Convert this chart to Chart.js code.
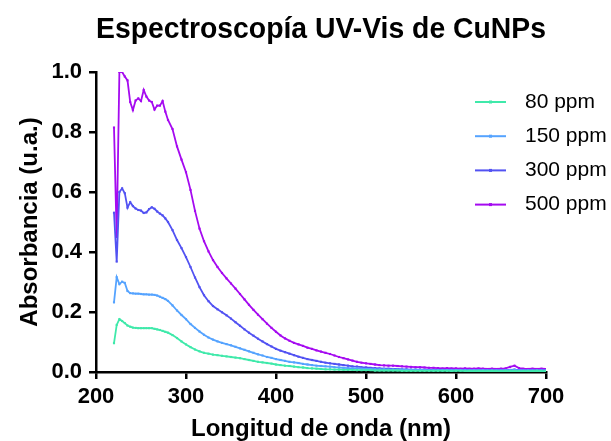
<!DOCTYPE html>
<html>
<head>
<meta charset="utf-8">
<script src="https://cdn.jsdelivr.net/npm/chart.js@4"></script>
<style>
html,body{margin:0;padding:0;background:#fff;}
#wrap{width:611px;height:441px;}
</style>
</head>
<body>
<div id="wrap"><canvas id="c" width="611" height="441"></canvas></div>
<script>
const wavelengths = [220,223,226,229,232,235,238,241,244,247,250,253,256,259,262,265,268,271,274,277,280,
  285,290,295,300,305,310,315,320,325,330,335,340,345,350,355,360,365,370,375,380,
  385,390,395,400,405,410,415,420,425,430,435,440,445,450,455,460,465,470,475,480,
  485,490,495,500,505,510,515,520,525,530,535,540,545,550,555,560,565,570,575,580,
  585,590,595,600,605,610,615,620,625,630,635,640,645,650,655,660,665,670,675,680,
  685,690,695,700];

const seriesLabels = ['80 ppm','150 ppm','300 ppm','500 ppm'];

const abs80 = [.096,.157,.176,.170,.163,.155,.151,.148,.147,.146,.146,.146,.146,.146,.146,.144,.142,.140,.137,.134,.131,
  .123,.113,.102,.092,.083,.075,.069,.064,.061,.058,.056,.054,.052,.050,.048,.046,.043,.040,.037,.034,
  .032,.030,.028,.025,.023,.021,.020,.018,.016,.015,.013,.012,.011,.010,.009,.009,.008,.008,.007,.007,
  .007,.006,.006,.006,.006,.005,.005,.005,.005,.005,.005,.004,.004,.004,.004,.004,.004,.004,.004,.004,
  .004,.004,.003,.004,.004,.003,.004,.003,.004,.003,.003,.004,.003,.003,.004,.003,.004,.003,.003,.003,
  .003,.004,.003,.003];

const abs150 = [.232,.316,.293,.301,.297,.270,.263,.262,.261,.261,.260,.259,.259,.258,.258,.257,.255,.251,.247,.243,.237,
  .222,.205,.190,.176,.160,.147,.135,.124,.115,.108,.102,.097,.093,.089,.084,.079,.074,.069,.064,.059,
  .055,.050,.047,.043,.040,.037,.034,.032,.030,.027,.025,.023,.021,.020,.019,.018,.016,.015,.014,.013,
  .012,.012,.011,.010,.010,.009,.009,.009,.008,.008,.008,.008,.007,.007,.007,.007,.007,.006,.006,.006,
  .006,.006,.006,.006,.006,.006,.005,.006,.005,.006,.005,.005,.005,.005,.006,.006,.007,.005,.005,.005,
  .005,.005,.005,.005];

const abs300 = [.531,.368,.600,.612,.596,.548,.566,.553,.545,.540,.538,.530,.532,.543,.549,.544,.535,.528,.522,.512,.500,
  .473,.440,.413,.383,.350,.315,.283,.256,.236,.220,.209,.199,.189,.178,.166,.154,.142,.131,.121,.111,
  .102,.093,.085,.077,.071,.066,.061,.056,.051,.047,.043,.040,.037,.034,.031,.029,.027,.025,.023,.021,
  .019,.018,.016,.015,.014,.013,.012,.011,.011,.010,.010,.009,.009,.008,.008,.008,.007,.007,.007,.007,
  .007,.006,.007,.006,.006,.007,.006,.006,.006,.006,.006,.006,.005,.006,.006,.007,.008,.006,.006,.005,
  .006,.005,.006,.005];

const abs500 = [.815,.450,1.000,1.000,.985,.972,.900,.873,.905,.912,.903,.940,.918,.905,.900,.875,.888,.888,.903,.868,.840,
  .810,.752,.708,.666,.607,.537,.478,.436,.402,.373,.350,.330,.312,.295,.278,.260,.242,.224,.207,.191,
  .176,.161,.147,.134,.122,.112,.104,.097,.092,.087,.081,.077,.072,.068,.064,.060,.055,.050,.046,.042,
  .038,.034,.031,.029,.027,.025,.023,.022,.021,.021,.020,.019,.018,.017,.016,.016,.015,.014,.014,.013,
  .012,.013,.012,.012,.011,.012,.011,.011,.012,.011,.010,.011,.010,.011,.012,.017,.021,.013,.011,.010,
  .011,.010,.011,.010];

const seriesValues = [abs80, abs150, abs300, abs500];
const seriesColors = ['#3FE9AA','#55A3FF','#5252F2','#A50AF0'];

const xTicks = [200,300,400,500,600,700];
const yTicks = [0.0,0.2,0.4,0.6,0.8,1.0];

const FONT = '"Liberation Sans", Arial, Helvetica, sans-serif';

const datasets = seriesValues.map((vals, i) => ({
  label: seriesLabels[i],
  data: wavelengths.map((w, k) => ({x: w, y: vals[k]})),
  borderColor: seriesColors[i],
  backgroundColor: seriesColors[i],
  borderWidth: 1.8,
  pointRadius: 1.5,
  pointHoverRadius: 1.5,
  pointBorderWidth: 0,
  pointStyle: 'rect',
  tension: 0,
  fill: false
}));

const legendPlugin = {
  id: 'sideLegend',
  afterDraw(chart) {
    const ctx = chart.ctx;
    ctx.save();
    const x0 = 475, x1 = 506, tx = 525, y0 = 102, dy = 34.2;
    chart.data.datasets.forEach((ds, i) => {
      const y = y0 + i * dy;
      ctx.strokeStyle = ds.borderColor;
      ctx.lineWidth = 2;
      ctx.beginPath(); ctx.moveTo(x0, y); ctx.lineTo(x1, y); ctx.stroke();
      ctx.fillStyle = ds.borderColor;
      ctx.fillRect((x0 + x1) / 2 - 1.5, y - 1.5, 3, 3);
      ctx.fillStyle = '#000';
      ctx.font = '21px ' + FONT;
      ctx.textBaseline = 'middle';
      ctx.textAlign = 'left';
      ctx.fillText(ds.label, tx, y);
    });
    ctx.restore();
  }
};

new Chart(document.getElementById('c'), {
  type: 'line',
  data: { datasets },
  plugins: [legendPlugin],
  options: {
    responsive: false,
    animation: false,
    events: [],
    layout: { padding: { left: 8, right: 65, top: 0, bottom: 0 } },
    plugins: {
      legend: { display: false },
      tooltip: { enabled: false },
      title: {
        display: true,
        text: 'Espectroscopía UV-Vis de CuNPs',
        fullSize: false,
        color: '#000',
        font: { family: FONT, size: 29, weight: 'bold', lineHeight: 1.2 },
        padding: { top: 13, bottom: 24.2 }
      }
    },
    scales: {
      x: {
        type: 'linear',
        min: 200, max: 700,
        afterBuildTicks(scale) { scale.ticks = xTicks.map(v => ({value: v})); },
        afterFit(scale) { scale.height = 69; },
        border: { color: '#000', width: 2.5 },
        grid: { drawOnChartArea: false, drawTicks: true, tickLength: 7, color: '#000', lineWidth: 2.5 },
        ticks: { color: '#000', font: { family: FONT, size: 22, weight: 'bold' }, padding: 5, maxRotation: 0 },
        title: { display: true, text: 'Longitud de onda (nm)', color: '#000',
                 font: { family: FONT, size: 24, weight: 'bold', lineHeight: 1.0 }, padding: { top: 0, bottom: 0 } }
      },
      y: {
        type: 'linear',
        min: 0, max: 1,
        afterBuildTicks(scale) { scale.ticks = yTicks.map(v => ({value: v})); },
        afterFit(scale) { scale.width = 88; },
        border: { color: '#000', width: 2.5 },
        grid: { drawOnChartArea: false, drawTicks: true, tickLength: 7, color: '#000', lineWidth: 2.5 },
        ticks: { color: '#000', font: { family: FONT, size: 22, weight: 'bold' }, padding: 7,
                 callback: v => Number(v).toFixed(1) },
        title: { display: true, text: 'Absorbancia (u.a.)', color: '#000',
                 font: { family: FONT, size: 24, weight: 'bold', lineHeight: 1.0 }, padding: { top: 10, bottom: 0 } }
      }
    }
  }
});
</script>
</body>
</html>
